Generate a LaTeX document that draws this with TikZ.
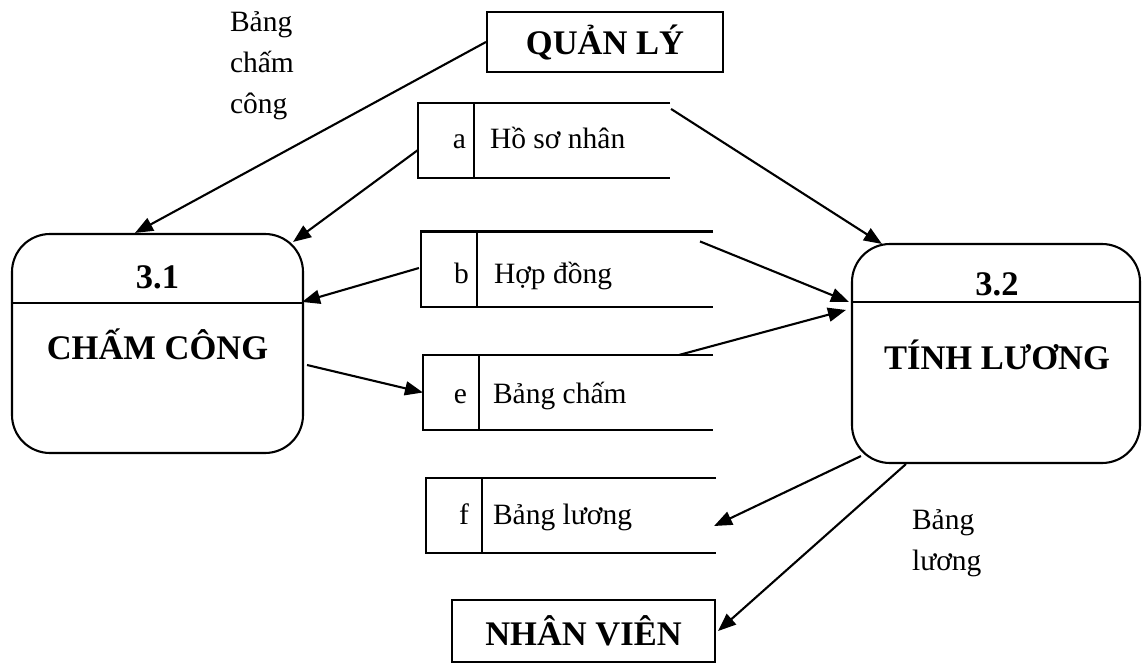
\documentclass[tikz,border=0pt]{standalone}
\usepackage{fontspec}
\setmainfont{Liberation Serif}
\usetikzlibrary{arrows.meta}
\begin{document}
\begin{tikzpicture}[x=1pt,y=-1pt,
  line width=2.1pt,
  txt/.style={font=\fontsize{29.5}{41}\selectfont, inner sep=0pt},
  bigtxt/.style={font=\fontsize{34.5}{40}\selectfont\bfseries, inner sep=0pt},
  proc/.style={draw, rounded corners=38pt, minimum width=#1, minimum height=219pt, inner sep=0pt},
  ext/.style={draw, inner sep=0pt, font=\fontsize{34.5}{40}\selectfont\bfseries},
  store/.style={inner sep=0pt, minimum height=73pt},
  flow/.style={-{Triangle[length=18pt,width=14pt]}}
]
\useasboundingbox (0,0) rectangle (1142,664);

% external entities
\node[ext, minimum width=236pt, minimum height=60pt] (ql) at (605,42) {QUẢN LÝ};
\node[ext, minimum width=263pt, minimum height=62pt] (nv) at (583.5,631) {NHÂN VIÊN};

% processes
\node[proc=291pt] (p31) at (157.5,343.5) {};
\draw ([yshift=-70pt]p31.north west) -- ([yshift=-70pt]p31.north east);
\node[bigtxt, anchor=base] (p31n) at (157.5,288) {3.1};
\node[bigtxt, anchor=base] (p31t) at (157.5,359) {CHẤM CÔNG};

\node[proc=288pt] (p32) at (996,353.5) {};
\draw ([yshift=-59pt]p32.north west) -- ([yshift=-59pt]p32.north east);
\node[bigtxt, anchor=base] (p32n) at (997,295) {3.2};
\node[bigtxt, anchor=base] (p32t) at (997,369) {TÍNH LƯƠNG};

% data stores: open on the right, id cell on the left
\node[store, minimum width=250pt] (sa) at (544,140.5) {};
\node[store, minimum width=290pt] (sb) at (567,269) {};
\node[store, minimum width=288pt] (se) at (568,392.5) {};
\node[store, minimum width=288pt] (sf) at (571,515.5) {};
\foreach \s in {sa,sb,se,sf}{
  \draw (\s.north east) -- (\s.north west) -- (\s.south west) -- (\s.south east);
  \draw ([xshift=56pt]\s.north west) -- ([xshift=56pt]\s.south west);
}
\node[txt, anchor=base east] (sai) at (467,148) {a};
\node[txt, anchor=base west] (sat) at (489,148) {Hồ sơ nhân};
\node[txt, anchor=base east] (sbi) at (470,283) {b};
\node[txt, anchor=base west] (sbt) at (493,283) {Hợp đồng};
\node[txt, anchor=base east] (sei) at (468,403) {e};
\node[txt, anchor=base west] (set) at (492,403) {Bảng chấm};
\node[txt, anchor=base east] (sfi) at (470,524) {f};
\node[txt, anchor=base west] (sft) at (492,524) {Bảng lương};

% flow labels (base anchor sits on the last line)
\node[txt, anchor=base west, align=left] (l1) at (229,113) {Bảng\\chấm\\công};
\node[txt, anchor=base west, align=left] (l2) at (911,570) {Bảng\\lương};

% data flows
\draw[flow] (ql.west) -- ([xshift=-22.5pt]p31.north);
\draw[flow] ([yshift=-9.5pt]sa.west) -- ([xshift=-11pt,yshift=-9pt]p31.north east);
\draw[flow] ([xshift=-2pt,yshift=1pt]sb.west) -- ([xshift=-2pt,yshift=-69pt]p31.north east);
\draw[flow] ([xshift=3pt,yshift=-21.5pt]p31.east) -- (se.west);
\draw[flow] ([xshift=1pt,yshift=-6pt]sa.north east) -- ([xshift=31pt,yshift=-1pt]p32.north west);
\draw[flow] ([xshift=-13pt,yshift=-10pt]sb.north east) -- ([xshift=-2pt,yshift=-59pt]p32.north west);
\draw[flow] ([xshift=-34pt]se.north east) -- ([xshift=-5pt,yshift=-67pt]p32.north west);
\draw[flow] ([xshift=10pt,yshift=8pt]p32.south west) -- ([xshift=-2pt,yshift=-10.5pt]sf.east);
\draw[flow] ([xshift=55pt]p32.south west) -- ([xshift=2pt]nv.east);
\end{tikzpicture}
\end{document}
